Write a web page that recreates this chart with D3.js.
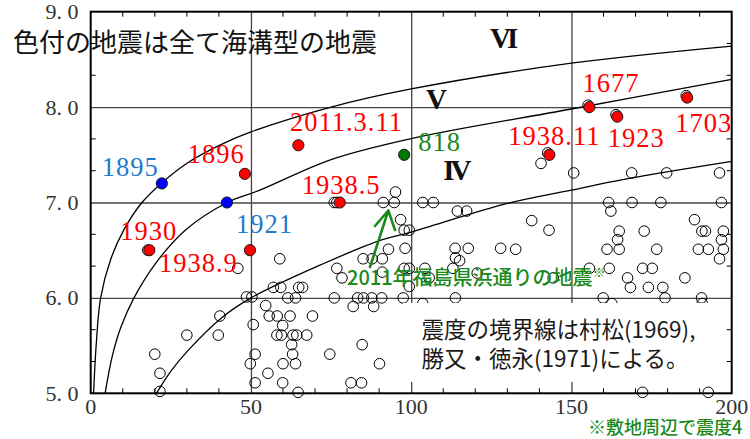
<!DOCTYPE html>
<html><head><meta charset="utf-8">
<script src="https://cdn.jsdelivr.net/npm/d3@7"></script>
<style>html,body{margin:0;padding:0;background:#fff;} svg{display:block;}</style>
</head><body>
<svg id="chart" width="750" height="439"></svg>
<script>
// ---------- data ----------
const xTicks = [0, 50, 100, 150, 200];
const xTickLabels = ["0", "50", "100", "150", "200"];
const yTicks = [5, 6, 7, 8, 9];
const yTickLabels = ["5. 0", "6. 0", "7. 0", "8. 0", "9. 0"];

// all earthquakes (open circles): epicentral distance (km), magnitude
const openDist = [17.8,20.0,21.6,21.6,30.0,39.8,40.3,45.9,48.6,50.3,50.7,51.3,49.8,51.3,54.6,55.7,58.2,59.0,57.0,59.3,
  61.5,63.9,64.9,66.1,62.2,59.9,58.1,59.5,63.1,64.3,67.4,62.7,63.0,60.0,63.9,55.3,59.9,64.7,69.2,74.6,
  76.8,78.4,76.0,83.3,85.1,87.7,90.8,81.9,88.3,84.7,81.2,84.5,90.1,85.0,87.8,91.0,92.9,91.0,76.0,76.8,
  91.3,94.7,95.1,96.7,97.8,99.4,98.1,97.8,99.4,99.4,97.5,103.6,106.9,114.4,117.3,113.7,117.8,127.9,132.6,113.8,
  115.1,113.0,104.3,105.6,120.6,113.8,103.6,137.6,143.0,140.5,150.7,144.3,142.6,155.6,161.8,159.9,162.6,161.6,162.3,164.9,
  164.4,164.9,161.1,172.7,176.6,168.8,179.7,196.2,168.9,177.9,196.8,188.4,190.7,191.8,197.4,196.8,189.6,192.7,197.4,196.2,
  167.5,172.2,175.2,168.4,174.0,178.5,185.4,179.2,190.6,190.8,172.2,192.7,155.2,163.9,185.8];
const openMag = [6.50,5.41,5.21,5.02,5.61,5.61,5.81,6.31,6.01,6.01,5.72,5.41,5.31,5.11,5.92,5.81,5.81,6.41,6.11,6.11,
  6.00,6.00,6.11,6.11,5.81,5.71,5.61,5.61,5.61,5.61,5.61,5.51,5.41,5.31,5.31,5.21,5.11,5.01,5.81,5.41,
  6.31,6.21,6.00,6.00,6.00,6.00,6.00,5.91,5.91,5.51,5.11,5.11,5.31,6.41,6.41,6.41,6.51,6.27,7.00,7.00,
  7.00,7.00,7.11,6.82,6.71,6.71,6.52,6.31,6.31,6.12,6.00,7.00,7.00,6.91,6.91,6.52,6.52,6.52,6.51,6.42,
  6.39,6.31,6.31,6.21,6.26,6.00,5.94,6.81,6.71,7.41,7.31,6.21,7.52,6.31,6.31,6.00,5.94,7.00,6.91,6.70,
  6.61,6.51,6.51,6.70,6.51,7.31,7.31,7.31,7.00,7.00,7.00,6.82,6.70,6.70,6.70,6.61,6.51,6.51,6.51,6.41,
  6.21,6.31,6.31,6.11,6.11,6.11,6.21,6.00,6.00,5.94,5.01,5.01,8.02,7.92,8.12];

// coloured (trench-type) earthquakes
const eqNames = ["1895","1921","1896","1930","1938.9","2011.3.11","1938.5","818","1938.11","1677","1923","1703"];
const eqDist  = [22.2, 42.5, 48.1, 18.3, 49.7, 64.8, 77.7, 97.8, 143.1, 155.6, 164.3, 186.1];
const eqMag   = [7.2, 7.0, 7.3, 6.5, 6.5, 7.6, 7.0, 7.5, 7.5, 8.0, 7.9, 8.1];
const eqKind  = ["blue","blue","red","red","red","red","red","green","red","red","red","red"];

// intensity boundary curves
const bndVI_V_dist = [0.9, 1.7, 3.1, 6.2, 10.3, 16.0, 22.0, 30.4, 40.8, 50.0, 75.0, 100.0, 150.0, 200.0];
const bndVI_V_mag  = [5.0, 5.5, 6.0, 6.4, 6.71, 7.0, 7.2, 7.42, 7.61, 7.74, 8.0, 8.19, 8.46, 8.64];
const bndV_IV_dist = [4.5, 6.8, 9.5, 13.5, 20.2, 29.5, 42.6, 52.8, 75.0, 100.0, 150.0, 200.0];
const bndV_IV_mag  = [5.0, 5.4, 5.7, 6.0, 6.36, 6.71, 7.0, 7.13, 7.45, 7.67, 7.98, 8.29];
const bndIV_III_dist = [20.5, 25.2, 30.4, 40.8, 50.0, 72.0, 91.0, 100.0, 130.0, 150.0, 166.0, 200.0];
const bndIV_III_mag  = [5.0, 5.24, 5.45, 5.79, 6.0, 6.35, 6.61, 6.69, 6.99, 7.13, 7.24, 7.43];

const zoneLabels = ["VI", "V", "IV"];

// ---------- layout / style ----------
const L = 90.7, R = 731.7, T = 11.7, B = 393.3;
const colorFill = {blue: "#0000ff", red: "#ff0000", green: "#007a00"};
const colorText = {blue: "#1e7acb", red: "#ff0000", green: "#1a8a1a"};
const labelOffset = {
  "1895": [-60, -7], "1921": [9, 30], "1896": [-57, -11], "1930": [-29, -10],
  "1938.9": [-91, 21.5], "2011.3.11": [-8.5, -14], "1938.5": [-38, -9], "818": [14, -4],
  "1938.11": [-41, -10], "1677": [-7, -15.5], "1923": [-9.5, 30.5], "1703": [-12, 34]
};
const zonePos = [[124.6, 8.62], [104.6, 7.98], [110.0, 7.24]];
const labelFont = "'Liberation Serif', 'Times New Roman', serif";
const axisFont = "'Liberation Serif', 'Times New Roman', serif";
const jp = "'Noto Sans CJK JP', 'Noto Sans', sans-serif";

const svg = d3.select("#chart");
const x = d3.scaleLinear().domain([0, 200]).range([L, R]);
const y = d3.scaleLinear().domain([5, 9]).range([B, T]);

svg.append("defs").append("clipPath").attr("id", "plotclip")
  .append("rect").attr("x", L).attr("y", T).attr("width", R - L).attr("height", B - T);

// gridlines
const grid = svg.append("g");
grid.append("g").attr("transform", `translate(0,${B})`)
  .call(d3.axisBottom(x).tickValues([50, 100, 150]).tickSize(-(B - T)).tickFormat(""))
  .call(g => g.select(".domain").remove())
  .call(g => g.selectAll("line").attr("stroke", "#444").attr("stroke-width", 1.3));
grid.append("g").attr("transform", `translate(${L},0)`)
  .call(d3.axisLeft(y).tickValues([6, 7, 8]).tickSize(-(R - L)).tickFormat(""))
  .call(g => g.select(".domain").remove())
  .call(g => g.selectAll("line").attr("stroke", "#444").attr("stroke-width", 1.3));

// boundary curves
const curves = [
  d3.zip(bndVI_V_dist, bndVI_V_mag),
  d3.zip(bndV_IV_dist, bndV_IV_mag),
  d3.zip(bndIV_III_dist, bndIV_III_mag)
];
const line = d3.line().x(p => x(p[0])).y(p => y(p[1])).curve(d3.curveCatmullRom.alpha(0.5));
svg.append("g").attr("clip-path", "url(#plotclip)")
  .selectAll("path").data(curves).join("path")
  .attr("d", line)
  .attr("fill", "none").attr("stroke", "#000").attr("stroke-width", 1.3);

// open circles
svg.append("g").selectAll("circle").data(d3.zip(openDist, openMag)).join("circle")
  .attr("cx", d => x(d[0])).attr("cy", d => y(d[1])).attr("r", 5.3)
  .attr("fill", "none").attr("stroke", "#000").attr("stroke-width", 1);

// coloured points
const eq = eqNames.map((n, i) => ({name: n, d: eqDist[i], m: eqMag[i], k: eqKind[i]}));
svg.append("g").selectAll("circle").data(eq).join("circle")
  .attr("cx", d => x(d.d)).attr("cy", d => y(d.m)).attr("r", 5.6)
  .attr("fill", d => colorFill[d.k]).attr("stroke", "#1a1a1a").attr("stroke-width", 1);

// white note box
svg.append("rect").attr("x", 403).attr("y", 303).attr("width", R - 403 - 1).attr("height", 79).attr("fill", "#fff");
const note = svg.append("text").attr("font-family", jp).attr("font-size", 22.5).attr("fill", "#1a1a1a");
note.append("tspan").attr("x", 421.5).attr("y", 338).text("震度の境界線は村松(1969),");
note.append("tspan").attr("x", 421.5).attr("y", 367).text("勝又・徳永(1971)による。");

// frame
svg.append("rect").attr("x", L).attr("y", T).attr("width", R - L).attr("height", B - T)
  .attr("fill", "none").attr("stroke", "#000").attr("stroke-width", 2);

// minor ticks (inside)
const xMinor = d3.range(10, 200, 10).filter(v => v % 50 !== 0);
const yMinor = d3.range(5, 9, 1 / 3).filter(v => Math.abs(v - Math.round(v)) > 0.01);
const tk = svg.append("g").attr("stroke", "#000").attr("stroke-width", 1);
tk.selectAll(".xb").data(xMinor).join("line").attr("class", "xb").attr("x1", d => x(d)).attr("x2", d => x(d)).attr("y1", B).attr("y2", B - 5);
tk.selectAll(".xt").data(xMinor).join("line").attr("class", "xt").attr("x1", d => x(d)).attr("x2", d => x(d)).attr("y1", T).attr("y2", T + 5);
tk.selectAll(".yl").data(yMinor).join("line").attr("class", "yl").attr("y1", d => y(d)).attr("y2", d => y(d)).attr("x1", L).attr("x2", L + 5);
tk.selectAll(".yr").data(yMinor).join("line").attr("class", "yr").attr("y1", d => y(d)).attr("y2", d => y(d)).attr("x1", R).attr("x2", R - 5);

// axis labels
svg.append("g").selectAll("text").data(yTicks).join("text")
  .attr("x", 78.5).attr("y", d => y(d) + 7.5).attr("text-anchor", "end")
  .attr("font-family", axisFont).attr("font-size", 22).attr("fill", "#333")
  .text((d, i) => yTickLabels[i]);
svg.append("g").selectAll("text").data(xTicks).join("text")
  .attr("x", d => x(d)).attr("y", 414).attr("text-anchor", "middle")
  .attr("font-family", axisFont).attr("font-size", 22).attr("fill", "#333")
  .text((d, i) => xTickLabels[i]);

// year labels
svg.append("g").selectAll("text").data(eq).join("text")
  .attr("x", d => x(d.d) + labelOffset[d.name][0]).attr("y", d => y(d.m) + labelOffset[d.name][1])
  .attr("font-family", labelFont).attr("font-size", 26.5).attr("letter-spacing", 1)
  .attr("fill", d => colorText[d.k])
  .text(d => d.name);

// intensity zone labels
svg.append("g").selectAll("text").data(zoneLabels).join("text")
  .attr("x", (d, i) => x(zonePos[i][0])).attr("y", (d, i) => y(zonePos[i][1]))
  .attr("font-family", "'Liberation Serif', serif").attr("font-weight", "bold")
  .attr("font-size", 29).attr("letter-spacing", -4).attr("fill", "#111")
  .text(d => d);

// title
svg.append("text").attr("x", 13).attr("y", 51.5).attr("font-family", jp).attr("font-size", 26)
  .attr("fill", "#111").text("色付の地震は全て海溝型の地震");

// annotation for 2011 Fukushima Hamadori
const green = "#1a8a1a";
const ann = svg.append("text").attr("x", 347).attr("y", 285).attr("font-family", jp)
  .attr("font-size", 20).attr("font-weight", 500).attr("fill", green);
ann.append("tspan").text("2011年福島県浜通りの地震");
ann.append("tspan").attr("font-size", 13).attr("dy", -8).text("※");
svg.append("path").attr("d", "M370,267 L388.3,210.5 M375,226 L388.3,210.5 L395,230")
  .attr("fill", "none").attr("stroke", green).attr("stroke-width", 2.6)
  .attr("stroke-linecap", "round").attr("stroke-linejoin", "round");

svg.append("text").attr("x", 588).attr("y", 433.5).attr("font-family", jp).attr("font-size", 18)
  .attr("font-weight", 500).attr("fill", green).text("※敷地周辺で震度4");
</script>
</body></html>
